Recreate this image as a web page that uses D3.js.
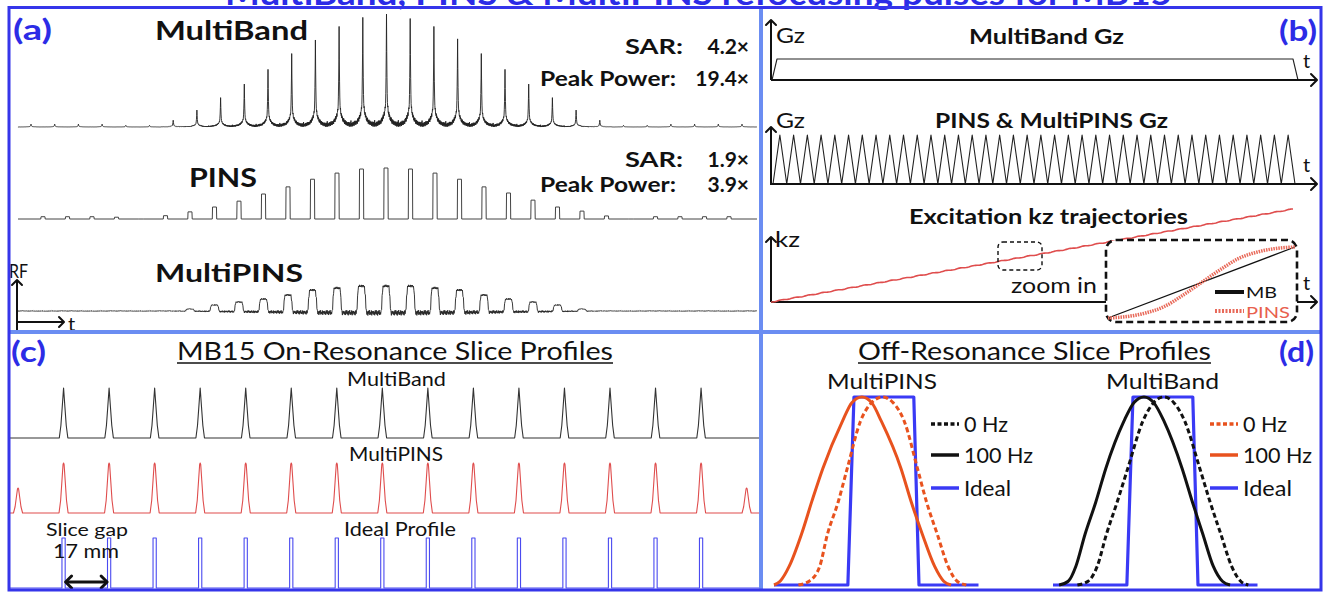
<!DOCTYPE html>
<html><head><meta charset="utf-8">
<script src="https://cdn.jsdelivr.net/npm/d3@7"></script>
<style>body{margin:0;background:#fff}svg{display:block}text{font-family:Lato,"Open Sans",sans-serif}</style>
</head><body><svg id="c" width="1331" height="592"></svg>
<script>
// ---------------- DATA ----------------
// (a) RF pulse sub-pulse amplitudes (normalised)
const mbRfPulse = [0.025,0.025,0.025,0.025,0.015,0.015,0.06,0.15,0.26,0.38,0.51,0.65,0.77,0.89,0.97,1.0,0.96,0.89,0.78,0.65,0.51,0.38,0.26,0.15,0.06,0.015,0.015,0.025,0.025,0.025,0.025];
const pinsRfPulse = [0.045,0.045,0.045,0.035,0,0.065,0.14,0.235,0.35,0.49,0.63,0.78,0.9,0.98,1,0.98,0.9,0.78,0.63,0.51,0.37,0.235,0.155,0.06,0,0.045,0.045,0.045,0.045];
const multiPinsRfPulse = [0.08,0.24,0.36,0.48,0.64,0.84,0.92,1,1,1,0.92,0.84,0.64,0.48,0.36,0.24,0.08];
const mbSpikeShape = [[0,1],[0.015,0.5],[0.04,0.2],[0.08,0.13],[0.15,0.08],[0.25,0.045],[0.4,0.028],[0.5,0.022]];
const pinsBoxShape = [[-0.09,0],[-0.08,1],[0.08,1],[0.09,0]];
const multiPinsBumpShape = [[-0.19,0],[-0.17,0.45],[-0.15,0.8],[-0.12,0.97],[-0.08,1],[0.08,1],[0.12,0.97],[0.15,0.8],[0.17,0.45],[0.19,0]];
const ringing = [0.9,-0.6,0.4,-1,0.7,-0.3,1,-0.8,0.2,-0.5,0.8,-0.9,0.5,-0.2,0.6,-0.7,0.3,-0.95,0.75,-0.4];
const sarLabels = [["SAR:","4.2×","Peak Power:","19.4×"],["SAR:","1.9×","Peak Power:","3.9×"]];
// (b) gradients and kz
const mbGzShape = [[0,0],[0.0095,1],[0.9905,1],[1,0]];
const pinsGzLobes = [1,1,1,1,1,1,1,1,1,1,1,1,1,1,1,1,1,1,1,1,1,1,1,1,1,1,1,1,1,1,1,1,1,1,1,1,1,1];
const kzStepShape = [[0,0],[0.1,0.02],[0.2,0.07],[0.3,0.16],[0.4,0.32],[0.5,0.5],[0.6,0.68],[0.7,0.84],[0.8,0.93],[0.9,0.98],[1,1]];
const mbKzShape = [[0,0],[1,1]];
// (c) on-resonance slice profiles (mm)
const sliceCenters = [-119,-102,-85,-68,-51,-34,-17,0,17,34,51,68,85,102,119];
const multiPinsCenters = [-136,-119,-102,-85,-68,-51,-34,-17,0,17,34,51,68,85,102,119,136];
const multiPinsAmps = [0.5,1,1,1,1,1,1,1,1,1,1,1,1,1,1,1,0.5];
const mbSliceShape = [[-1.6,0],[-1.0,0.25],[-0.5,0.62],[0,1],[0.5,0.62],[1.0,0.25],[1.6,0]];
const pinsSliceShape = [[-1.7,0],[-1.1,0.25],[-0.6,0.65],[-0.2,0.97],[0,1],[0.2,0.97],[0.6,0.65],[1.1,0.25],[1.7,0]];
const idealSliceShape = [[-0.6,0],[-0.6,1],[0.6,1],[0.6,0]];
// (d) off-resonance profiles
const mpins0Hz = [[-2.8,0],[-2.45,0.02],[-2.1,0.1],[-1.85,0.27],[-1.5,0.44],[-1.2,0.62],[-0.77,0.87],[-0.4,0.97],[-0.05,1],[0.3,0.97],[0.67,0.87],[1.1,0.62],[1.4,0.44],[1.75,0.27],[2.1,0.1],[2.4,0.02],[2.7,0]];
const mpins100Hz = [[-3.6,0],[-3.4,0.02],[-3.1,0.1],[-2.7,0.27],[-2.35,0.45],[-2.0,0.62],[-1.36,0.87],[-1.05,0.97],[-0.72,1],[-0.4,0.97],[-0.08,0.87],[0.56,0.62],[0.9,0.44],[1.26,0.27],[1.66,0.1],[1.96,0.02],[2.2,0]];
const mb0Hz = [[-2.8,0],[-2.45,0.02],[-2.15,0.1],[-1.85,0.27],[-1.5,0.44],[-1.15,0.62],[-0.66,0.87],[-0.3,0.97],[0.03,1],[0.36,0.97],[0.72,0.87],[1.21,0.62],[1.55,0.44],[1.9,0.27],[2.25,0.1],[2.55,0.02],[2.8,0]];
const mb100Hz = [[-3.4,0],[-3.1,0.02],[-2.85,0.1],[-2.55,0.27],[-2.2,0.44],[-1.87,0.62],[-1.28,0.87],[-0.95,0.97],[-0.62,1],[-0.3,0.97],[0.04,0.87],[0.63,0.62],[0.97,0.44],[1.31,0.27],[1.65,0.1],[1.95,0.02],[2.2,0]];
const idealProfile = [[-3.6,0],[-1.18,0],[-0.98,1],[0.98,1],[1.15,0],[3.1,0]];
const legendLabels = ["0 Hz","100 Hz","Ideal"];

// ---------------- DRAW ----------------
const svg = d3.select('#c');
const K = '#111', BLUE = '#2c2ce6', ORANGE = '#e8521e', IDEAL = '#3a3af5', RED = '#df4d4d';
function T(x, y, s, o = {}) {
  const t = svg.append('text').attr('x', x).attr('y', y).text(s)
    .attr('font-size', o.size || 20).attr('font-weight', o.bold ? 700 : 400)
    .attr('fill', o.fill || K).attr('text-anchor', o.anchor || 'start');
  if (o.w) t.attr('textLength', o.w).attr('lengthAdjust', 'spacingAndGlyphs');
  if (o.ul) svg.append('line').attr('x1', x).attr('x2', x + o.w).attr('y1', y + 3).attr('y2', y + 3).attr('stroke', K).attr('stroke-width', 1.3);
  return t;
}
function path(d, stroke, w, extra = {}) {
  const p = svg.append('path').attr('d', d).attr('fill', 'none').attr('stroke', stroke).attr('stroke-width', w)
    .attr('stroke-linejoin', 'round');
  for (const k in extra) p.attr(k, extra[k]);
  return p;
}
function chevron(x, y, dir, s = 6, w = 2) {
  let d;
  if (dir === 'up') d = `M${x - s},${y + s}L${x},${y}L${x + s},${y + s}`;
  else if (dir === 'right') d = `M${x - s},${y - s}L${x},${y}L${x - s},${y + s}`;
  else d = `M${x + s},${y - s}L${x},${y}L${x + s},${y + s}`;
  path(d, K, w, { 'stroke-linecap': 'round' });
}
const lineXY = (sx, sy, curve) => d3.line().x(d => sx(d[0])).y(d => sy(d[1])).curve(curve || d3.curveLinear);

// title (clipped at top)
T(225, 5, 'MultiBand, PINS & MultiPINS refocusing pulses for MB15', { size: 32, bold: true, fill: BLUE, w: 947 });

// ===== Panel (a) =====
const xMB = d3.scaleLinear([-15, 15], [31, 742]);
const yMB = d3.scaleLinear([0, 1], [127, 14]);
const xP = d3.scaleLinear([-14, 14], [43, 729]);
const yP = d3.scaleLinear([0, 1], [219, 168]);
const yMP = d3.scaleLinear([0, 1], [311, 286]);

(function () {
  const kern = d3.scaleLinear(mbSpikeShape.map(d => d[0]), mbSpikeShape.map(d => d[1])).clamp(true);
  const idx = mbRfPulse.map((_, i) => i - 15);
  const env = d3.scaleLinear(idx, mbRfPulse).clamp(true);
  const pts = [];
  const n0 = Math.round(xMB.invert(18) * 100), n1 = Math.round(xMB.invert(757) * 100);
  for (let n = n0; n <= n1; n++) {
    const t = n / 100;
    let v = 0;
    idx.forEach((c, i) => { const dd = Math.abs(t - c); if (dd <= 0.5) v += mbRfPulse[i] * kern(dd); });
    const dFrac = Math.abs(t - Math.round(t));
    if (dFrac > 0.02) v += env(t) * 0.022 * ringing[((n % ringing.length) + ringing.length) % ringing.length];
    pts.push([t, v]);
  }
  path(lineXY(xMB, yMB)(pts), '#222', 0.9);
})();
(function () {
  const pts = [[xP.invert(18), 0]];
  pinsRfPulse.forEach((h, i) => { const c = i - 14; pinsBoxShape.forEach(s => pts.push([c + s[0], s[1] * h])); });
  pts.push([xP.invert(757), 0]);
  path(lineXY(xP, yP)(pts), '#444', 1);
})();
(function () {
  const idx = multiPinsRfPulse.map((_, i) => i - 8);
  const env = d3.scaleLinear([-9, ...idx, 9], [0, ...multiPinsRfPulse, 0]).clamp(true);
  const bumpK = d3.scaleLinear(multiPinsBumpShape.map(d => d[0]), multiPinsBumpShape.map(d => d[1])).clamp(true);
  const pts = [];
  const n0 = Math.round(xP.invert(17) * 50), n1 = Math.round(xP.invert(757) * 50);
  for (let n = n0; n <= n1; n++) {
    const t = n / 50;
    let v = 0, inBump = false;
    idx.forEach((c, i) => { const dd = t - c; if (Math.abs(dd) < 0.19) { v += multiPinsRfPulse[i] * bumpK(dd); if (Math.abs(dd) < 0.14) inBump = true; } });
    const r = ringing[((n % ringing.length) + ringing.length) % ringing.length];
    v += inBump ? env(t) * 0.04 * r : env(t) * (-0.07 + 0.1 * r);
    v += 0.015 * ringing[(((n * 7) % ringing.length) + ringing.length) % ringing.length];
    pts.push([t, v]);
  }
  path(lineXY(xP, yMP)(pts), '#222', 0.9);
})();
T(13, 40, '(a)', { size: 29, bold: true, fill: BLUE, w: 39 });
T(155, 40, 'MultiBand', { size: 26, bold: true, w: 153 });
T(189, 187, 'PINS', { size: 27, bold: true, w: 68 });
T(155, 282, 'MultiPINS', { size: 25, bold: true, w: 148 });
[[54, 86], [167, 192]].forEach((yy, i) => {
  const L = sarLabels[i];
  T(625, yy[0], L[0], { size: 21, bold: true, w: 58 });
  T(749, yy[0], L[1], { size: 21, bold: true, anchor: 'end' });
  T(540, yy[1], L[2], { size: 21, bold: true, w: 136 });
  T(749, yy[1], L[3], { size: 21, bold: true, anchor: 'end' });
});
// RF/t axes
path('M17,330L17,280', K, 2); chevron(17, 280, 'up', 5, 2);
path('M17,322L64,322', K, 2); chevron(64, 322, 'right', 5, 2);
T(9, 278, 'RF', { size: 19, w: 19 });
T(68, 331, 't', { size: 20 });

// ===== Panel (b) =====
const xG1 = d3.scaleLinear([0, 1], [772, 1298]);
const yG1 = d3.scaleLinear([0, 1], [80, 59]);
path(lineXY(xG1, yG1)(mbGzShape), '#222', 1.1);
path('M771,80L771,20', K, 2); chevron(771, 20, 'up', 5, 2);
path('M771,80L1317,80', K, 2); chevron(1317, 80, 'right', 6, 2);
T(776, 43, 'Gz', { size: 21, w: 29 });
T(969, 44, 'MultiBand Gz', { size: 21, bold: true, w: 155 });
T(1303, 68, 't', { size: 20 });
T(1279, 41, '(b)', { size: 29, bold: true, fill: BLUE, w: 38 });

const xG2 = d3.scaleLinear([0, pinsGzLobes.length], [773, 1295]);
const yG2 = d3.scaleLinear([0, 1], [184, 135]);
(function () {
  const pts = [];
  pinsGzLobes.forEach((a, i) => { pts.push([i, 0], [i + 0.5, a]); });
  pts.push([pinsGzLobes.length, 0]);
  path(lineXY(xG2, yG2)(pts), '#222', 1.1);
})();
path('M771,185L771,127', K, 2); chevron(771, 127, 'up', 5, 2);
path('M771,184L1317,184', K, 2); chevron(1317, 184, 'right', 6, 2);
T(776, 128, 'Gz', { size: 21, w: 29 });
T(935, 128, 'PINS & MultiPINS Gz', { size: 21, bold: true, w: 233 });
T(1303, 172, 't', { size: 20 });

const xK = d3.scaleLinear([0, pinsGzLobes.length], [771, 1293]);
const yK = d3.scaleLinear([0, d3.sum(pinsGzLobes)], [302, 209]);
path('M771,302L771,237', K, 2); chevron(771, 237, 'up', 5, 2);
path('M771,302L1317,302', K, 2); chevron(1317, 302, 'right', 6, 2);
(function () {
  const pts = []; let cum = 0;
  pinsGzLobes.forEach((a, i) => { kzStepShape.forEach(s => pts.push([i + s[0], cum + s[1] * a])); cum += a; });
  path(lineXY(xK, yK)(pts), RED, 1.6);
})();
T(909, 224, 'Excitation kz trajectories', { size: 21, bold: true, w: 279 });
T(775, 247, 'kz', { size: 21, w: 25 });
T(1011, 293, 'zoom in', { size: 22, w: 86 });
T(1303, 290, 't', { size: 20 });
svg.append('rect').attr('x', 998).attr('y', 242).attr('width', 44).attr('height', 28).attr('rx', 5)
  .attr('fill', 'none').attr('stroke', K).attr('stroke-width', 1.4).attr('stroke-dasharray', '4,3');
svg.append('rect').attr('x', 1106).attr('y', 240).attr('width', 191).attr('height', 82).attr('rx', 10)
  .attr('fill', '#fff').attr('stroke', K).attr('stroke-width', 2.6).attr('stroke-dasharray', '7,4');
const xI = d3.scaleLinear([0, 1], [1108, 1295]);
const yI = d3.scaleLinear([0, 1], [318, 247]);
path(lineXY(xI, yI)(mbKzShape), K, 1.3);
path(lineXY(xI, yI, d3.curveMonotoneX)(kzStepShape), '#e86a5a', 3.5, { 'stroke-dasharray': '1.5,1' });
path('M1215,292L1244,292', K, 4);
T(1246, 298, 'MB', { size: 15, w: 31 });
path('M1215,311L1244,311', '#e86a5a', 4, { 'stroke-dasharray': '2,1.5' });
T(1246, 318, 'PINS', { size: 16, fill: '#e8604e', w: 44 });

// ===== Panel (c) =====
const xC = d3.scaleLinear([-139, 141], [10, 760]);
function slicePath(centers, amps, shape) {
  const pts = [[-139, 0]];
  centers.forEach((c, i) => shape.forEach(s => pts.push([c + s[0], s[1] * amps[i]])));
  pts.push([141, 0]);
  return pts;
}
const ones = sliceCenters.map(() => 1);
path(lineXY(xC, d3.scaleLinear([0, 1], [438, 388]))(slicePath(sliceCenters, ones, mbSliceShape)), '#333', 1.1);
path(lineXY(xC, d3.scaleLinear([0, 1], [513, 463]))(slicePath(multiPinsCenters, multiPinsAmps, pinsSliceShape)), RED, 1.1);
path(lineXY(xC, d3.scaleLinear([0, 1], [588, 538]))(slicePath(sliceCenters, ones, idealSliceShape)), '#4a4af0', 1.1);
T(11, 362, '(c)', { size: 29, bold: true, fill: BLUE, w: 35 });
T(177, 360, 'MB15 On-Resonance Slice Profiles', { size: 25, w: 436, ul: true });
T(347, 386, 'MultiBand', { size: 19, w: 99 });
T(349, 461, 'MultiPINS', { size: 19, w: 94 });
T(344, 536, 'Ideal Profile', { size: 19, w: 112 });
T(46, 536, 'Slice gap', { size: 18, w: 82 });
T(53, 558, '17 mm', { size: 19, w: 66 });
path(`M${xC(-119) + 3},582L${xC(-102) - 3},582`, K, 3);
chevron(xC(-119) + 2, 582, 'left', 6, 3); chevron(xC(-102) - 2, 582, 'right', 6, 3);

// ===== Panel (d) =====
const yD = d3.scaleLinear([0, 1], [585, 397]);
const xD1 = d3.scaleLinear([-3.6, 3.1], [774, 978.5]);
const xD2 = d3.scaleLinear([-3.6, 3.1], [1053, 1257.5]);
path(lineXY(xD1, yD)(idealProfile), IDEAL, 3.2);
path(lineXY(xD1, yD, d3.curveMonotoneX)(mpins100Hz), ORANGE, 3);
path(lineXY(xD1, yD, d3.curveMonotoneX)(mpins0Hz), ORANGE, 3, { 'stroke-dasharray': '5,3' });
path(lineXY(xD2, yD)(idealProfile), IDEAL, 3.2);
path(lineXY(xD2, yD, d3.curveMonotoneX)(mb100Hz), K, 3);
path(lineXY(xD2, yD, d3.curveMonotoneX)(mb0Hz), K, 3, { 'stroke-dasharray': '5,3' });
T(858, 360, 'Off-Resonance Slice Profiles', { size: 25, w: 353, ul: true });
T(1279, 362, '(d)', { size: 29, bold: true, fill: BLUE, w: 35 });
T(827, 389, 'MultiPINS', { size: 22, w: 110 });
T(1106, 389, 'MultiBand', { size: 22, w: 113 });
const legY = [424, 455, 488];
const legW = [[44, 69, 47], [44, 69, 49]];
[[931, K], [1210, ORANGE]].forEach((L, j) => {
  const x0 = L[0], col = L[1];
  path(`M${x0},${legY[0]}L${x0 + 28},${legY[0]}`, col, 3.5, { 'stroke-dasharray': '4,2.5' });
  path(`M${x0},${legY[1]}L${x0 + 28},${legY[1]}`, col, 3.5);
  path(`M${x0},${legY[2]}L${x0 + 28},${legY[2]}`, IDEAL, 3.5);
  legendLabels.forEach((s, i) => T(x0 + 33, legY[i] + 8, s, { size: 22, w: legW[j][i] }));
});

// ===== Borders =====
svg.append('line').attr('x1', 761).attr('x2', 761).attr('y1', 8).attr('y2', 590).attr('stroke', '#6b8df2').attr('stroke-width', 4);
svg.append('line').attr('x1', 9).attr('x2', 1321).attr('y1', 332).attr('y2', 332).attr('stroke', '#6b8df2').attr('stroke-width', 4);
svg.append('rect').attr('x', 9).attr('y', 7.5).attr('width', 1312).attr('height', 582.5)
  .attr('fill', 'none').attr('stroke', '#3535ea').attr('stroke-width', 3);
</script></body></html>
